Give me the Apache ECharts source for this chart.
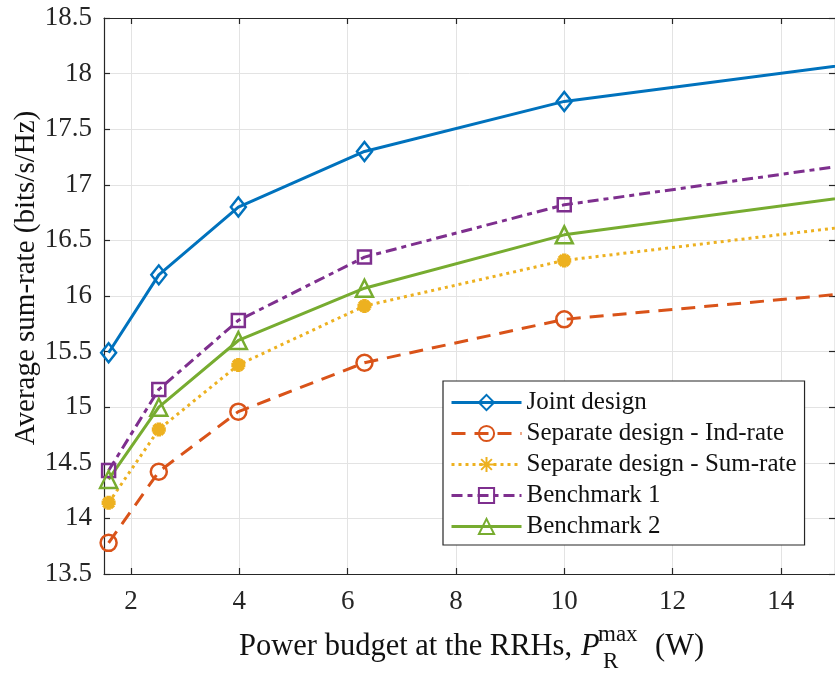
<!DOCTYPE html>
<html>
<head>
<meta charset="utf-8">
<script src="https://cdn.jsdelivr.net/npm/echarts@6/dist/echarts.min.js"></script>
<style>
html,body{margin:0;padding:0;background:#fff;}
#chart{width:835px;height:675px;}
</style>
</head>
<body>
<div id="chart"></div>
<script>
// Power budget values (W) — last point lies beyond the visible axis range
const powerW = [1.585, 2.512, 3.981, 6.310, 10, 15.85];
const xTicks = [2, 4, 6, 8, 10, 12, 14];
const jointDesign = [15.49, 16.19, 16.80, 17.30, 17.75, 18.12];
const sepIndRate = [13.78, 14.42, 14.96, 15.40, 15.79, 16.05];
const sepSumRate = [14.14, 14.80, 15.38, 15.91, 16.32, 16.66];
const benchmark1 = [14.43, 15.16, 15.78, 16.35, 16.82, 17.22];
const benchmark2 = [14.35, 15.00, 15.60, 16.07, 16.55, 16.93];
const seriesNames = ['Joint design', 'Separate design - Ind-rate', 'Separate design - Sum-rate', 'Benchmark 1', 'Benchmark 2'];

const FONT = '"Liberation Serif", "DejaVu Serif", serif';
const AX = '#262626';
const GRID = '#e3e3e3';

function pairs(ys) { return powerW.map((x, i) => [x, ys[i]]); }

const asterisk = 'path://M0,-10L0,10M-10,0L10,0M-7.07,-7.07L7.07,7.07M-7.07,7.07L7.07,-7.07';

function mk(name, ys, color, lineType, symbol, size, bw) {
  return {
    name: name, type: 'line', data: pairs(ys),
    xAxisIndex: 0, yAxisIndex: 0,
    symbol: symbol, symbolSize: size, showSymbol: true,
    lineStyle: { color: color, width: 3, type: lineType },
    itemStyle: { color: 'rgba(255,255,255,0)', borderColor: color, borderWidth: bw },
    emphasis: { disabled: true },
    clip: true, z: 3
  };
}

const chart = echarts.init(document.getElementById('chart'), null, { renderer: 'canvas' });
const grid = { left: 104, top: 18, width: 733, height: 556, containLabel: false };

const xCommon = {
  type: 'value', min: 1.5, max: 15,
  axisLine: { show: true, onZero: false, lineStyle: { color: AX, width: 1.2 } },
};
const yCommon = {
  type: 'value', min: 13.5, max: 18.5, interval: 0.5,
  axisLine: { show: true, onZero: false, lineStyle: { color: AX, width: 1.2 } },
};

chart.setOption({
  animation: false,
  backgroundColor: '#fff',
  grid: grid,
  xAxis: [
    Object.assign({}, xCommon, {
      position: 'bottom',
      axisTick: { show: true, inside: true, length: 6, customValues: xTicks, lineStyle: { color: AX, width: 1.2 } },
      axisLabel: { show: true, customValues: xTicks, margin: 14, color: AX, fontFamily: FONT, fontSize: 27 },
      splitLine: { show: true, lineStyle: { color: GRID, width: 1 } }
    }),
    Object.assign({}, xCommon, {
      position: 'top',
      axisTick: { show: true, inside: true, length: 6, customValues: xTicks, lineStyle: { color: AX, width: 1.2 } },
      axisLabel: { show: false, customValues: xTicks },
      splitLine: { show: false }
    })
  ],
  yAxis: [
    Object.assign({}, yCommon, {
      position: 'left',
      axisTick: { show: true, inside: true, length: 6, lineStyle: { color: AX, width: 1.2 } },
      axisLabel: { show: true, margin: 12, color: AX, fontFamily: FONT, fontSize: 27 },
      splitLine: { show: true, lineStyle: { color: GRID, width: 1 } }
    }),
    Object.assign({}, yCommon, {
      position: 'right',
      axisTick: { show: true, inside: true, length: 6, lineStyle: { color: AX, width: 1.2 } },
      axisLabel: { show: false },
      splitLine: { show: false }
    })
  ],
  legend: {
    orient: 'vertical', left: 443, top: 381,
    data: seriesNames,
    itemWidth: 70, itemHeight: 19, itemGap: 6,
    padding: [9, 8, 6, 7],
    lineStyle: { width: 3 },
    backgroundColor: '#fff', borderColor: AX, borderWidth: 1.2, borderRadius: 0,
    textStyle: { fontFamily: FONT, fontSize: 25, color: '#111', lineHeight: 24 },
    selectedMode: false
  },
  graphic: [
    { type: 'text', x: 26, y: 278, rotation: Math.PI / 2,
      style: { text: 'Average sum-rate (bits/s/Hz)', font: '29px ' + FONT, fill: '#111', align: 'center', verticalAlign: 'middle' } },
    { type: 'text', x: 572, y: 647,
      style: { text: 'Power budget at the RRHs,', font: '30.5px ' + FONT, fill: '#111', align: 'right', verticalAlign: 'middle' } },
    { type: 'text', x: 581, y: 647,
      style: { text: 'P', font: 'italic 30.5px ' + FONT, fill: '#111', align: 'left', verticalAlign: 'middle' } },
    { type: 'text', x: 598, y: 635,
      style: { text: 'max', font: '23px ' + FONT, fill: '#111', align: 'left', verticalAlign: 'middle' } },
    { type: 'text', x: 603, y: 662,
      style: { text: 'R', font: '23px ' + FONT, fill: '#111', align: 'left', verticalAlign: 'middle' } },
    { type: 'text', x: 655, y: 647,
      style: { text: '(W)', font: '30.5px ' + FONT, fill: '#111', align: 'left', verticalAlign: 'middle' } }
  ],
  series: [
    mk(seriesNames[0], jointDesign, '#0072BD', 'solid', 'diamond', [15, 19], 2.5),
    mk(seriesNames[1], sepIndRate, '#D95319', [14, 9], 'circle', 16, 2.5),
    mk(seriesNames[2], sepSumRate, '#EDB120', [3, 4], asterisk, 14, 4.5),
    mk(seriesNames[3], benchmark1, '#7E2F8E', [11, 5, 5, 5], 'rect', 13, 2.5),
    mk(seriesNames[4], benchmark2, '#77AC30', 'solid', 'triangle', 17, 2.5)
  ]
});
</script>
</body>
</html>
